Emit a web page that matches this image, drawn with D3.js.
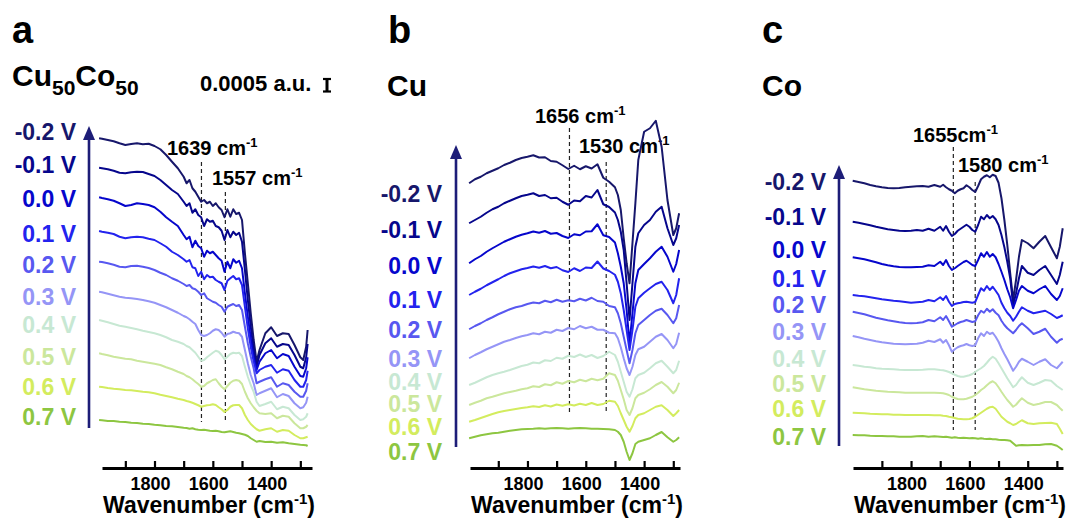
<!DOCTYPE html>
<html>
<head>
<meta charset="utf-8">
<script src="https://cdn.jsdelivr.net/npm/d3@7"></script>
<style>
  body { margin: 0; background: #fff; }
  svg { display: block; }
  text { font-family: "Liberation Sans", Arial, Helvetica, sans-serif; font-weight: bold; }
</style>
</head>
<body>
<svg id="fig" width="1078" height="520"></svg>
<script>
// ---------------------------------------------------------------------------
// Potential-dependent IR difference spectra (absorbance in units of 1e-4 a.u.)
// ---------------------------------------------------------------------------
const potentials = ["-0.2 V", "-0.1 V", "0.0 V", "0.1 V", "0.2 V", "0.3 V", "0.4 V", "0.5 V", "0.6 V", "0.7 V"];
const tickValues = [1900, 1800, 1700, 1600, 1500, 1400, 1300];
const tickLabels = [1800, 1600, 1400];
const scaleBarValue = 0.0005; // a.u.

// ---- Cu50Co50 -------------------------------------------------------------
const wnCuCo = [1990,1980,1960,1940,1920,1900,1880,1860,1840,1820,1800,1780,1760,1740,1720,1700,
  1690,1680,1670,1660,1650,1640,1630,1620,1610,1600,1590,1580,1570,1560,1550,1540,1530,1520,1510,1500,
  1490,1480,1470,1460,1450,1440,1420,1400,1380,1360,1340,1320,1300,1290,1280,1275];
const cuCoM02 = [132.7,132.5,132.0,131.5,130.7,130.0,130.4,130.7,130.3,130.5,129.6,128.3,126.0,123.3,120.7,117.3,
  114.7,116.0,112.7,111.3,109.3,107.3,108.0,106.7,107.3,105.6,106.7,105.1,104.0,101.1,104.3,101.3,104.3,102.4,102.9,100.0,
  86.7,74.7,62.7,52.0,43.3,48.0,54.7,57.1,53.6,54.7,54.4,50.0,45.1,44.0,49.3,56.0];
const cuCoM01 = [120.9,120.7,120.3,119.7,118.9,118.7,119.1,119.3,119.2,118.4,117.6,116.0,114.0,112.0,110.4,107.3,
  105.6,106.7,102.9,104.3,102.0,101.1,97.6,100.3,99.3,99.7,97.6,97.1,95.7,92.0,96.0,93.1,95.3,94.0,94.9,91.3,
  80.0,68.0,57.3,48.0,41.3,46.0,50.7,52.7,49.3,50.4,50.0,46.0,41.3,40.7,45.1,50.4];
const cuCoP00 = [109.1,108.8,108.3,107.7,106.7,105.6,106.0,106.7,106.4,106.0,105.1,103.3,101.1,99.3,97.6,94.0,
  92.3,93.3,89.1,91.7,89.6,88.7,85.3,87.7,86.7,87.3,86.0,84.7,83.7,79.3,83.3,80.7,84.3,82.9,83.7,80.7,
  70.7,61.3,52.7,45.3,40.0,43.3,46.7,48.0,44.7,46.4,45.6,41.3,37.6,37.3,40.7,45.1];
const cuCoP01 = [95.6,95.3,94.9,94.4,93.3,92.7,93.1,93.3,93.1,92.5,92.0,90.7,89.3,87.3,86.0,84.3,
  83.3,84.0,81.1,80.7,77.6,79.3,76.3,78.0,77.1,77.3,76.0,75.3,74.7,72.0,75.7,76.7,77.6,76.3,76.7,74.0,
  65.3,56.7,49.3,43.3,38.7,40.0,41.3,42.0,38.9,40.3,39.7,36.0,33.3,33.3,36.0,39.7];
const cuCoP02 = [83.3,83.2,82.7,82.1,81.3,81.1,81.6,81.7,81.3,80.8,80.0,78.9,78.0,76.7,75.7,74.4,
  73.6,74.0,72.7,72.3,71.3,70.0,70.7,68.7,68.0,67.3,66.9,66.0,65.3,63.3,65.3,65.9,66.4,65.6,66.0,64.0,
  57.3,50.7,45.3,40.7,34.7,35.3,36.3,37.1,33.3,34.7,34.0,31.3,29.3,29.3,31.7,34.7];
const cuCoP03 = [71.3,71.1,70.5,69.9,69.3,68.9,68.7,68.4,68.0,67.5,66.9,66.0,65.1,64.0,62.9,61.6,
  61.1,60.3,59.3,58.4,56.0,54.0,53.6,54.0,54.7,55.7,56.3,56.0,54.9,53.3,54.4,54.7,55.3,54.9,54.7,53.3,
  48.0,42.7,38.0,34.7,30.0,30.7,31.7,32.7,29.1,30.4,29.6,26.7,24.7,25.1,26.9,29.3];
const cuCoP04 = [60.0,59.7,59.1,58.4,57.7,57.3,56.8,56.3,55.7,55.2,54.7,54.0,53.1,52.0,51.3,50.4,
  49.6,49.1,48.0,46.9,45.3,43.7,44.0,45.1,46.0,46.9,47.7,47.3,46.0,44.3,45.3,46.4,46.9,46.7,46.9,45.6,
  41.3,37.3,34.0,31.3,27.3,25.6,26.4,27.3,24.3,25.3,24.7,22.0,20.0,20.3,21.3,22.7];
const cuCoP05 = [46.7,46.4,45.9,45.3,44.9,44.5,44.3,43.7,43.3,42.9,42.5,42.0,41.1,40.3,39.3,38.4,
  37.6,37.1,36.3,35.3,34.4,33.3,33.6,34.7,35.3,36.0,36.3,34.7,33.3,32.3,33.6,34.9,35.7,36.0,35.7,34.4,
  31.3,28.7,26.7,25.1,23.7,22.7,22.4,22.7,20.7,21.7,21.3,18.7,16.7,16.7,17.3,18.0];
const cuCoP06 = [33.3,33.2,32.8,32.5,32.3,32.0,31.9,31.6,31.3,31.1,30.7,30.1,29.6,29.1,28.5,28.0,
  27.6,27.3,26.9,26.4,25.9,25.3,25.6,25.9,26.0,26.3,26.0,25.1,24.3,23.2,24.0,25.3,25.9,26.0,26.0,24.7,
  22.0,20.0,18.4,17.3,16.3,15.7,16.3,16.7,15.3,16.0,15.7,14.0,12.7,12.7,13.1,13.3];
const cuCoP07 = [20.0,19.9,19.6,19.6,19.3,19.2,18.9,18.8,18.5,18.4,18.1,17.9,17.6,17.5,17.2,16.9,
  16.8,16.5,16.7,16.3,16.1,16.0,16.1,15.9,15.7,15.6,15.7,15.5,15.2,15.1,15.3,15.5,15.2,14.9,14.7,14.4,
  14.1,13.6,12.7,12.0,11.3,11.6,11.2,11.3,10.9,11.1,10.7,10.4,10.1,10.0,9.9,9.6];

// ---- Cu --------------------------------------------------------------------
const wnCu = [2000,1980,1960,1940,1920,1900,1880,1860,1840,1820,1800,1780,1760,1740,1720,1700,1680,1660,1640,1620,
  1600,1580,1560,1540,1520,1500,1490,1480,1470,1460,1450,1440,1430,1420,1400,1380,1360,1340,1320,1300,1290,1280];
const cuM02 = [114.7,116.3,117.3,118.7,119.7,120.7,122.0,122.9,124.0,124.8,125.3,125.9,125.0,125.1,123.6,123.3,121.9,120.4,121.7,120.3,
  121.5,120.6,122.3,116.9,115.3,113.1,110.0,104.0,92.7,82.7,74.7,90.7,106.7,124.0,135.3,136.7,139.7,129.3,108.0,94.0,96.7,102.7];
const cuM01 = [98.7,100.0,101.3,102.9,104.3,105.3,106.7,107.7,108.7,109.6,110.1,110.7,109.6,110.0,108.7,108.9,107.3,106.1,107.8,107.5,
  109.6,109.0,112.0,106.3,105.2,103.0,100.0,95.3,88.0,74.7,60.0,74.7,89.3,94.7,98.0,100.0,103.3,105.3,96.7,90.0,92.7,98.0];
const cuP00 = [82.7,84.3,85.6,87.3,88.7,90.0,91.3,92.3,93.3,94.1,94.7,95.4,94.9,95.6,94.5,94.8,93.6,92.8,94.3,93.9,
  95.4,95.5,98.3,93.9,93.2,91.0,86.7,81.3,74.7,64.0,50.7,62.7,74.7,80.0,82.4,84.7,87.3,89.3,85.3,79.3,82.4,88.0];
const cuP01 = [70.0,71.3,72.5,73.9,75.1,76.3,77.6,78.7,79.5,80.3,80.8,81.4,80.9,81.6,80.7,81.2,79.9,79.2,80.7,79.6,
  81.0,80.8,83.4,80.6,79.6,78.1,75.3,70.7,64.0,56.0,48.0,56.0,65.3,68.7,70.9,72.7,74.4,75.3,72.0,66.7,70.0,76.7];
const cuP02 = [56.3,57.6,58.7,60.0,61.1,62.3,63.3,64.3,65.1,65.6,66.4,67.0,66.7,67.7,67.1,68.1,67.3,67.9,67.5,68.5,
  67.8,68.9,67.6,67.3,65.6,65.1,62.7,58.7,53.3,48.0,42.7,48.0,54.7,58.0,60.0,62.0,63.7,64.5,62.0,58.7,60.7,66.0];
const cuP03 = [44.7,46.0,47.1,48.3,49.3,50.3,51.3,52.0,52.8,53.5,54.0,54.7,54.3,55.3,54.9,56.1,55.6,56.8,56.3,57.6,
  56.7,57.3,56.1,56.1,54.9,54.7,52.7,49.1,44.7,40.7,38.0,41.3,46.0,48.3,49.3,51.3,53.3,54.4,52.0,48.7,50.4,54.9];
const cuP04 = [34.0,34.9,36.0,37.1,38.0,38.7,39.3,40.0,40.8,41.6,42.1,43.0,42.7,43.9,43.6,44.9,44.5,45.7,45.2,46.2,
  45.2,46.0,44.8,45.6,47.3,46.0,43.3,39.3,35.3,31.3,29.3,32.3,36.7,38.0,38.9,40.7,42.7,43.7,41.3,38.7,40.0,43.7];
const cuP05 = [26.0,26.9,27.7,28.7,29.3,30.0,30.7,31.2,31.7,32.3,32.7,33.5,33.2,34.3,33.9,35.1,34.5,35.6,35.1,36.1,
  35.5,36.5,35.9,36.5,38.7,38.0,35.7,32.0,28.3,24.0,22.0,24.7,28.7,30.0,30.9,32.3,34.0,35.2,33.3,30.7,32.0,34.9];
const cuP06 = [19.3,20.0,20.8,21.6,22.4,23.1,23.6,24.0,24.4,24.8,25.1,25.5,25.2,25.9,25.4,26.2,25.7,26.3,25.8,26.5,
  26.0,26.8,26.0,26.4,27.7,27.3,25.6,22.7,20.0,17.3,15.3,17.6,20.7,22.0,22.7,24.0,25.3,25.9,24.0,21.6,22.7,24.0];
const cuP07 = [12.7,13.3,13.9,14.3,14.7,14.9,15.3,15.7,16.0,16.3,16.4,16.5,16.7,16.5,16.7,16.8,16.7,16.5,16.7,16.8,
  16.7,16.5,16.5,16.4,16.3,16.0,15.3,14.0,11.3,7.3,4.0,6.7,10.4,11.3,12.0,12.7,14.0,15.2,13.1,11.3,12.0,13.1];

// ---- Co --------------------------------------------------------------------
const wnCo = [2000,1980,1960,1940,1920,1900,1880,1860,1840,1820,1800,1780,1760,1740,1720,1700,
  1690,1680,1670,1660,1650,1640,1630,1620,1610,1600,1590,1580,1570,1560,1550,1540,1530,1520,1510,1500,
  1490,1480,1470,1460,1450,1440,1430,1420,1400,1380,1360,1340,1320,1300,1290,1280];
const coM02 = [115.7,115.2,114.7,114.0,113.5,113.1,112.8,112.7,112.8,113.1,113.3,113.5,113.6,113.3,114.0,113.3,
  114.1,113.1,112.3,111.7,110.7,111.7,112.3,112.7,113.9,113.1,112.0,111.2,113.6,116.3,117.3,117.9,117.1,118.1,117.6,114.9,
  108.7,100.0,90.0,78.7,68.0,76.0,85.3,92.0,90.7,88.7,91.3,93.6,89.1,84.7,89.3,96.7];
const coM01 = [99.3,98.9,98.4,97.9,97.3,96.8,96.3,96.0,95.7,95.6,95.7,96.0,95.7,96.5,95.7,97.3,
  95.7,97.6,95.3,93.6,94.4,95.7,96.5,97.3,98.1,97.3,96.0,95.3,98.0,101.3,100.3,102.0,100.7,101.6,100.3,98.0,
  94.0,89.1,83.3,76.7,66.0,70.7,76.7,81.6,78.9,78.0,80.0,81.6,78.0,74.4,78.0,83.3];
const coP00 = [85.1,84.7,84.3,83.7,83.1,82.4,81.9,81.5,81.2,81.1,81.1,81.2,81.3,81.9,81.6,83.3,
  82.0,84.0,81.6,80.0,80.7,81.6,82.4,83.2,83.7,82.9,82.0,81.6,84.0,86.7,85.3,87.2,85.3,86.4,85.1,82.4,
  79.3,76.0,72.3,69.1,64.7,68.0,71.7,73.6,71.7,70.7,72.3,73.6,70.4,68.0,69.6,72.7];
const coP01 = [70.0,69.7,69.5,69.1,68.7,68.3,68.0,67.7,67.5,67.2,66.9,67.1,67.3,68.0,67.5,69.1,
  68.0,69.6,67.3,65.6,66.4,66.7,66.9,67.2,67.3,67.1,66.9,67.2,70.0,72.7,71.7,73.6,72.0,73.3,71.7,70.0,
  66.9,64.7,62.9,61.6,59.7,61.3,63.3,65.1,63.7,62.7,63.2,63.7,62.4,60.8,61.3,61.9];
const coP02 = [63.3,62.8,62.3,61.6,60.9,60.4,59.9,59.5,59.1,58.8,58.7,58.8,59.1,60.0,59.5,61.1,
  60.0,61.6,59.5,57.3,58.0,58.7,59.2,59.5,60.0,59.6,59.2,59.5,61.9,63.7,62.9,64.5,63.3,64.3,62.9,61.9,
  59.7,58.0,56.7,55.7,54.7,56.0,57.6,58.7,56.7,54.4,55.3,56.5,53.3,50.9,52.0,52.5];
const coP03 = [53.6,53.1,52.5,52.0,51.5,51.1,50.8,50.5,50.4,50.3,50.4,50.5,50.9,51.7,51.2,52.3,
  50.9,52.0,49.9,47.3,48.3,49.1,49.6,49.9,50.4,49.9,49.6,49.9,52.7,54.7,53.6,55.3,54.4,54.9,53.3,51.3,
  48.7,46.4,44.3,42.0,39.7,41.3,43.3,44.5,43.3,42.0,43.3,44.3,42.0,40.7,42.0,43.3];
const coP04 = [42.0,41.7,41.3,41.1,40.7,40.5,40.4,40.3,40.1,40.0,40.0,40.0,40.1,40.3,40.3,40.0,
  39.9,39.6,39.2,38.7,38.1,37.6,37.3,37.3,37.6,37.9,38.4,39.2,40.0,40.7,41.6,42.9,44.3,45.3,44.5,42.7,
  40.7,38.7,36.7,34.9,33.1,34.0,35.7,37.1,34.9,34.0,34.9,36.0,35.7,33.6,32.8,32.0];
const coP05 = [33.1,32.7,32.3,32.0,31.7,31.5,31.3,31.2,31.1,30.9,30.9,30.9,30.9,30.9,30.9,30.8,
  30.7,30.4,30.0,29.3,28.8,28.4,28.3,28.3,28.5,28.9,29.3,30.0,30.9,32.0,32.8,33.9,34.9,35.5,34.7,33.1,
  31.3,29.6,28.0,26.7,25.3,26.1,27.5,28.7,26.9,26.0,26.5,27.2,27.2,26.0,24.8,23.7];
const coP06 = [22.9,22.8,22.7,22.5,22.4,22.3,22.3,22.1,22.1,22.0,22.0,22.0,22.0,22.0,21.9,21.9,
  21.7,21.6,21.3,21.1,20.8,20.5,20.4,20.3,20.3,20.4,20.7,21.3,22.1,22.9,23.7,24.5,25.1,25.3,24.5,22.9,
  21.3,20.3,19.3,18.7,18.0,18.4,19.2,19.9,18.7,18.4,18.7,18.8,18.9,18.4,16.5,14.4];
const coP07 = [14.0,13.9,13.9,13.7,13.6,13.6,13.5,13.5,13.3,13.3,13.3,13.5,13.6,13.3,13.5,13.3,
  13.2,13.3,13.1,12.9,13.1,12.9,12.8,12.9,12.8,12.7,12.8,12.7,12.5,12.7,12.5,12.4,12.5,12.3,12.3,12.1,
  12.0,12.0,11.9,11.7,10.7,9.7,9.9,10.0,9.9,10.0,10.0,10.3,10.4,9.7,8.9,8.0];

// ---- marked band positions (cm-1) -----------------------------------------
const bandsCuCo = [1639, 1557];
const bandsCu = [1656, 1530];
const bandsCo = [1655, 1580];

// ---------------------------------------------------------------------------
// Styling and layout
// ---------------------------------------------------------------------------
const lineColors = ["#17176b", "#06068c", "#0606cc", "#2323ee", "#5858f0",
                    "#9595f6", "#c7e8d3", "#cbe79c", "#d3ec5e", "#8dc641"];
const arrowColor = "#1d1d78";

const panels = [
  { letter: "a", letterX: 12, material: [["Cu", ""], ["50", "sub"], ["Co", ""], ["50", "sub"]], matX: 12, matY: 86,
    wn: wnCuCo, series: [cuCoM02, cuCoM01, cuCoP00, cuCoP01, cuCoP02, cuCoP03, cuCoP04, cuCoP05, cuCoP06, cuCoP07],
    domain: [1980, 1260], range: [102, 312],
    labelX: 76, labelY: [140, 173, 207, 242, 273, 305, 333, 365, 395, 425],
    arrow: { x: 89, top: 126, bottom: 428 },
    bands: bandsCuCo, bandSpan: [[123.2, 19.2], [111.2, 20.0]],
    bandText: [{ t: "1639 cm", x: 167, y: 155 }, { t: "1557 cm", x: 212, y: 185 }] },
  { letter: "b", letterX: 388, material: [["Cu", ""]], matX: 387, matY: 96,
    wn: wnCu, series: [cuM02, cuM01, cuP00, cuP01, cuP02, cuP03, cuP04, cuP05, cuP06, cuP07],
    domain: [1997, 1277], range: [470, 680],
    labelX: 442, labelY: [202, 238, 274, 308, 338, 367, 390, 412, 435, 460],
    arrow: { x: 456, top: 145, bottom: 447 },
    bands: bandsCu, bandSpan: [[136.8, 22.8], [123.2, 22.8]],
    bandText: [{ t: "1656 cm", x: 535, y: 123 }, { t: "1530 cm", x: 579, y: 153 }] },
  { letter: "c", letterX: 762, material: [["Co", ""]], matX: 762, matY: 96,
    wn: wnCo, series: [coM02, coM01, coP00, coP01, coP02, coP03, coP04, coP05, coP06, coP07],
    domain: [1999, 1279], range: [853, 1063],
    labelX: 826, labelY: [190, 225, 258, 287, 313, 340, 367, 392, 417, 445],
    arrow: { x: 839, top: 165, bottom: 446 },
    bands: bandsCo, bandSpan: [[129.2, 16.0], [115.2, 16.0]],
    bandText: [{ t: "1655cm", x: 913, y: 142 }, { t: "1580 cm", x: 958, y: 172 }] }
];

const axisY = 468;
const svg = d3.select("#fig");

// shared absorbance scale: value in 1e-4 a.u. -> pixel
const y = d3.scaleLinear().domain([0, 100]).range([470, 220]);

function addSup(sel, base, sup, supSize) {
  sel.append("tspan").text(base);
  sel.append("tspan").attr("dy", -8).attr("font-size", supSize).text(sup);
}

panels.forEach(p => {
  const g = svg.append("g");
  const x = d3.scaleLinear().domain(p.domain).range(p.range);

  // panel letter and material
  g.append("text").attr("x", p.letterX).attr("y", 43).attr("font-size", 38).text(p.letter);
  const mat = g.append("text").attr("x", p.matX).attr("y", p.matY).attr("font-size", 30);
  let shifted = false;
  p.material.forEach(([s, kind]) => {
    const t = mat.append("tspan").text(s);
    if (kind === "sub") { t.attr("font-size", 21).attr("dy", 9); shifted = true; }
    else if (shifted) { t.attr("dy", -9); shifted = false; }
  });

  // x axis
  const axis = d3.axisBottom(x).tickValues(tickValues).tickSize(-7).tickSizeOuter(0).tickFormat("");
  const ax = g.append("g").attr("transform", `translate(0,${axisY})`).call(axis);
  ax.select(".domain").attr("stroke", "#000").attr("stroke-width", 3.2);
  ax.selectAll(".tick line").attr("stroke", "#000").attr("stroke-width", 2.2);
  g.selectAll(".tlab").data(tickLabels).join("text")
    .attr("x", d => x(d) - 4).attr("y", 490).attr("text-anchor", "middle")
    .attr("font-size", 18).text(d => d);
  const title = g.append("text").attr("x", (p.range[0] + p.range[1]) / 2 + 2).attr("y", 513)
    .attr("text-anchor", "middle").attr("font-size", 23);
  title.append("tspan").text("Wavenumber (cm");
  title.append("tspan").attr("dy", -9).attr("font-size", 15).text("-1");
  title.append("tspan").attr("dy", 9).text(")");

  // potential sweep arrow
  const ah = 14, aw = 6;
  g.append("line").attr("x1", p.arrow.x).attr("x2", p.arrow.x)
    .attr("y1", p.arrow.bottom).attr("y2", p.arrow.top + ah - 1)
    .attr("stroke", arrowColor).attr("stroke-width", 2.6);
  g.append("path")
    .attr("d", `M${p.arrow.x},${p.arrow.top} L${p.arrow.x + aw},${p.arrow.top + ah} L${p.arrow.x - aw},${p.arrow.top + ah} Z`)
    .attr("fill", arrowColor);

  // potential labels
  g.selectAll(".plab").data(potentials).join("text")
    .attr("x", p.labelX).attr("y", (d, i) => p.labelY[i])
    .attr("text-anchor", "end").attr("font-size", 23)
    .attr("fill", (d, i) => lineColors[i]).text(d => d);

  // band markers
  p.bands.forEach((b, i) => {
    g.append("line").attr("x1", x(b)).attr("x2", x(b))
      .attr("y1", y(p.bandSpan[i][0])).attr("y2", y(p.bandSpan[i][1]))
      .attr("stroke", "#222").attr("stroke-width", 1.2).attr("stroke-dasharray", "4,3");
    const t = g.append("text").attr("x", p.bandText[i].x).attr("y", p.bandText[i].y).attr("font-size", 20);
    addSup(t, p.bandText[i].t, "-1", 13);
  });

  // spectra
  const line = d3.line().x(d => x(d[0])).y(d => y(d[1])).curve(d3.curveLinear);
  p.series.forEach((s, i) => {
    g.append("path").datum(p.wn.map((w, k) => [w, s[k]]))
      .attr("d", line).attr("fill", "none")
      .attr("stroke", lineColors[i]).attr("stroke-width", 2)
      .attr("stroke-linejoin", "round");
  });
});

// absorbance scale bar
const sb = svg.append("g");
sb.append("text").attr("x", 200).attr("y", 91).attr("font-size", 22).text("0.0005 a.u.");
const barX = 327, barBottom = 91.5;
const barTop = barBottom - (y(0) - y(scaleBarValue / 1e-4));
sb.append("line").attr("x1", barX).attr("x2", barX).attr("y1", barBottom).attr("y2", barTop)
  .attr("stroke", "#000").attr("stroke-width", 3);
[barTop, barBottom].forEach(v => sb.append("line")
  .attr("x1", barX - 4).attr("x2", barX + 4).attr("y1", v).attr("y2", v)
  .attr("stroke", "#000").attr("stroke-width", 2.2));
</script>
</body>
</html>
